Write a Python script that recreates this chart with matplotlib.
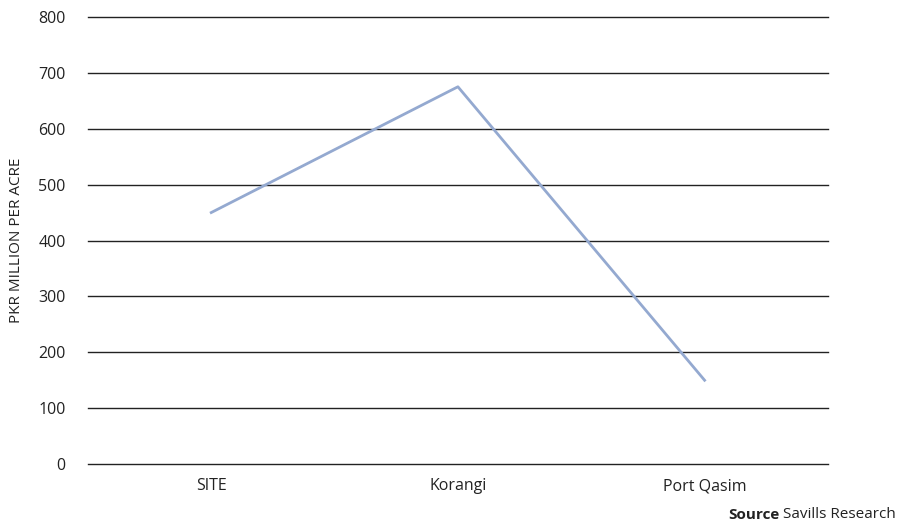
import matplotlib
matplotlib.use("Agg")
import matplotlib.pyplot as plt

categories = ["SITE", "Korangi", "Port Qasim"]
values = [450, 675, 150]
yticks = [0, 100, 200, 300, 400, 500, 600, 700, 800]

plt.rcParams["font.family"] = ["Open Sans", "DejaVu Sans"]

fig = plt.figure(figsize=(8.97, 5.28), dpi=100)
ax = fig.add_axes([0.098, 0.121, 0.825, 0.847])

x = range(len(categories))
ax.plot(x, values, color="#94a9d0", linewidth=2, zorder=3)

ax.set_xlim(-0.5, 2.5)
ax.set_ylim(0, 800)
ax.set_yticks(yticks)
ax.set_xticks(list(x))
ax.set_xticklabels(categories)
# gridlines, incl. the one at 0
for t in yticks:
    ax.axhline(t, color="#222222", linewidth=1, clip_on=False, zorder=1)
for s in ax.spines.values():
    s.set_visible(False)
ax.tick_params(axis="both", length=0, labelsize=11.5, colors="#222222")
ax.tick_params(axis="y", pad=16)
ax.tick_params(axis="x", pad=10)
ax.set_ylabel("PKR MILLION PER ACRE", fontsize=11, color="#222222", labelpad=10)

# source note: bold "Source" + regular text
src = fig.text(0.999, 0.012, "Savills Research", ha="right", va="bottom",
               fontsize=11, color="#222222")
fig.canvas.draw()
bb = src.get_window_extent()
fig.text(bb.x0 / fig.bbox.width - 0.004, 0.012, "Source", ha="right", va="bottom",
         fontsize=11, fontweight="bold", color="#222222")

fig.savefig("out.png", dpi=100)
